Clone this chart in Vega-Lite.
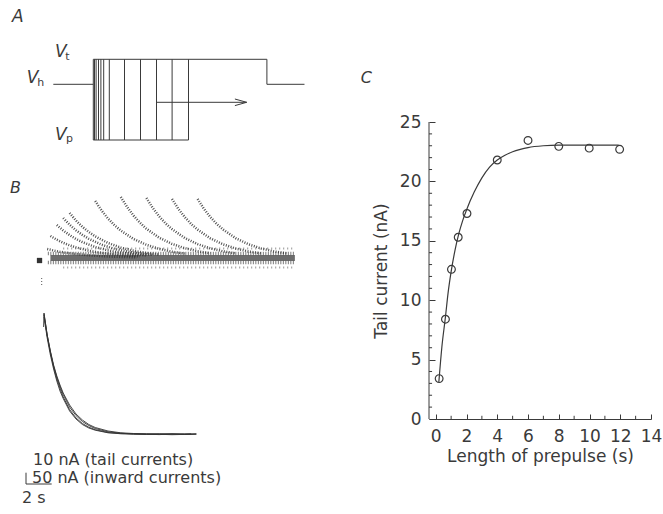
{
  "$schema": "https://vega.github.io/schema/vega-lite/v6.json",
  "padding": 0,
  "background": "white",
  "config": {
    "view": {"stroke": null},
    "font": "DejaVu Sans",
    "axis": {"titleFontWeight": "normal", "grid": false}
  },
  "datasets": {
    "protocol": [
      {"t": -5, "t2": 0, "v": 0, "v2": 0},
      {"t": 0, "t2": 0, "v": 25, "v2": -55.7},
      {"t": 0, "t2": 11.9, "v": -55.7, "v2": -55.7},
      {"t": 0.15, "t2": 0.15, "v": -55.7, "v2": 25},
      {"t": 0.35, "t2": 0.35, "v": -55.7, "v2": 25},
      {"t": 0.65, "t2": 0.65, "v": -55.7, "v2": 25},
      {"t": 0.95, "t2": 0.95, "v": -55.7, "v2": 25},
      {"t": 1.3, "t2": 1.3, "v": -55.7, "v2": 25},
      {"t": 2, "t2": 2, "v": -55.7, "v2": 25},
      {"t": 3.9, "t2": 3.9, "v": -55.7, "v2": 25},
      {"t": 5.9, "t2": 5.9, "v": -55.7, "v2": 25},
      {"t": 7.9, "t2": 7.9, "v": -55.7, "v2": 25},
      {"t": 9.85, "t2": 9.85, "v": -55.7, "v2": 25},
      {"t": 11.9, "t2": 11.9, "v": -55.7, "v2": 25},
      {"t": 0, "t2": 21.7, "v": 25, "v2": 25},
      {"t": 21.7, "t2": 21.7, "v": 25, "v2": 0},
      {"t": 21.7, "t2": 26.4, "v": 0, "v2": 0},
      {"t": 7.9, "t2": 19.17, "v": -18, "v2": -18},
      {"t": 17.7, "t2": 19.17, "v": -14.7, "v2": -18},
      {"t": 17.7, "t2": 19.17, "v": -21.3, "v2": -18}
    ],
    "protocolBig": [
      {"t": -10.16, "v": 62.3, "label": "A"},
      {"t": -4.79, "v": 27.6, "label": "V"},
      {"t": -8.33, "v": 1.0, "label": "V"},
      {"t": -4.79, "v": -55.7, "label": "V"}
    ],
    "protocolSub": [
      {"t": -3.5, "v": 24.0, "label": "t"},
      {"t": -7.0, "v": -1.5, "label": "h"},
      {"t": -3.4, "v": -57.5, "label": "p"}
    ],
    "bandCore": [{"t": 0.5, "t2": 19.6, "y": 177, "y2": 177}],
    "bandFringe": [
      {"t": 0.3, "t2": 19.6, "y": 181.5, "y2": 181.5},
      {"t": 0.3, "t2": 19.6, "y": 172.5, "y2": 172.5}
    ],
    "bandOuter": [
      {"t": 1.5, "t2": 19.4, "y": 186.5, "y2": 186.5},
      {"t": 1.5, "t2": 19.4, "y": 167.5, "y2": 167.5}
    ],
    "tail": [
      {"k": 0.25, "t": 0.25, "y": 186}, {"k": 0.25, "t": 0.75, "y": 184.5}, {"k": 0.25, "t": 1.25, "y": 183.2}, {"k": 0.25, "t": 1.75, "y": 182.2}, {"k": 0.25, "t": 2.25, "y": 181.3}, {"k": 0.25, "t": 3.25, "y": 180}, {"k": 0.25, "t": 4.25, "y": 179.1}, {"k": 0.25, "t": 5.25, "y": 178.4}, {"k": 0.25, "t": 6.25, "y": 178}, {"k": 0.25, "t": 7.25, "y": 177.7},
      {"k": 0.5, "t": 0.5, "y": 199}, {"k": 0.5, "t": 1, "y": 195.3}, {"k": 0.5, "t": 1.5, "y": 192.2}, {"k": 0.5, "t": 2, "y": 189.7}, {"k": 0.5, "t": 2.5, "y": 187.6}, {"k": 0.5, "t": 3.5, "y": 184.3}, {"k": 0.5, "t": 4.5, "y": 182.1}, {"k": 0.5, "t": 5.5, "y": 180.5}, {"k": 0.5, "t": 6.5, "y": 179.4}, {"k": 0.5, "t": 7.5, "y": 178.7},
      {"k": 1, "t": 1, "y": 210}, {"k": 1, "t": 1.5, "y": 204.5}, {"k": 1, "t": 2, "y": 199.9}, {"k": 1, "t": 2.5, "y": 196}, {"k": 1, "t": 3, "y": 192.9}, {"k": 1, "t": 4, "y": 188}, {"k": 1, "t": 5, "y": 184.6}, {"k": 1, "t": 6, "y": 182.3}, {"k": 1, "t": 7, "y": 180.7}, {"k": 1, "t": 8, "y": 179.5},
      {"k": 1.5, "t": 1.5, "y": 217}, {"k": 1.5, "t": 2, "y": 210.3}, {"k": 1.5, "t": 2.5, "y": 204.7}, {"k": 1.5, "t": 3, "y": 200.1}, {"k": 1.5, "t": 3.5, "y": 196.2}, {"k": 1.5, "t": 4.5, "y": 190.3}, {"k": 1.5, "t": 5.5, "y": 186.2}, {"k": 1.5, "t": 6.5, "y": 183.4}, {"k": 1.5, "t": 7.5, "y": 181.4}, {"k": 1.5, "t": 8.5, "y": 180.1},
      {"k": 2, "t": 2, "y": 222}, {"k": 2, "t": 2.5, "y": 214.5}, {"k": 2, "t": 3, "y": 208.2}, {"k": 2, "t": 3.5, "y": 203}, {"k": 2, "t": 4, "y": 198.6}, {"k": 2, "t": 5, "y": 192}, {"k": 2, "t": 6, "y": 187.4}, {"k": 2, "t": 7, "y": 184.2}, {"k": 2, "t": 8, "y": 182}, {"k": 2, "t": 9, "y": 180.5},
      {"k": 4, "t": 4, "y": 234}, {"k": 4, "t": 4.5, "y": 224.5}, {"k": 4, "t": 5, "y": 216.5}, {"k": 4, "t": 5.5, "y": 209.9}, {"k": 4, "t": 6, "y": 204.4}, {"k": 4, "t": 7, "y": 196}, {"k": 4, "t": 8, "y": 190.2}, {"k": 4, "t": 9, "y": 186.1}, {"k": 4, "t": 10, "y": 183.3}, {"k": 4, "t": 11, "y": 181.4},
      {"k": 6, "t": 6, "y": 238}, {"k": 6, "t": 6.5, "y": 227.8}, {"k": 6, "t": 7, "y": 219.3}, {"k": 6, "t": 7.5, "y": 212.2}, {"k": 6, "t": 8, "y": 206.3}, {"k": 6, "t": 9, "y": 197.3}, {"k": 6, "t": 10, "y": 191.1}, {"k": 6, "t": 11, "y": 186.8}, {"k": 6, "t": 12, "y": 183.8}, {"k": 6, "t": 13, "y": 181.7},
      {"k": 8, "t": 8, "y": 237}, {"k": 8, "t": 8.5, "y": 227}, {"k": 8, "t": 9, "y": 218.6}, {"k": 8, "t": 9.5, "y": 211.6}, {"k": 8, "t": 10, "y": 205.9}, {"k": 8, "t": 11, "y": 197}, {"k": 8, "t": 12, "y": 190.9}, {"k": 8, "t": 13, "y": 186.6}, {"k": 8, "t": 14, "y": 183.7}, {"k": 8, "t": 15, "y": 181.6},
      {"k": 10, "t": 10, "y": 236}, {"k": 10, "t": 10.5, "y": 226.1}, {"k": 10, "t": 11, "y": 217.9}, {"k": 10, "t": 11.5, "y": 211}, {"k": 10, "t": 12, "y": 205.4}, {"k": 10, "t": 13, "y": 196.6}, {"k": 10, "t": 14, "y": 190.6}, {"k": 10, "t": 15, "y": 186.4}, {"k": 10, "t": 16, "y": 183.5}, {"k": 10, "t": 17, "y": 181.5},
      {"k": 12, "t": 12, "y": 236}, {"k": 12, "t": 12.5, "y": 226.1}, {"k": 12, "t": 13, "y": 217.9}, {"k": 12, "t": 13.5, "y": 211}, {"k": 12, "t": 14, "y": 205.4}, {"k": 12, "t": 15, "y": 196.6}, {"k": 12, "t": 16, "y": 190.6}, {"k": 12, "t": 17, "y": 186.4}, {"k": 12, "t": 18, "y": 183.5}, {"k": 12, "t": 19, "y": 181.5}
    ],
    "inward": [
      {"k": 1, "t": -0.03, "y": 108}, {"k": 1, "t": 0, "y": 122}, {"k": 1, "t": 0.25, "y": 100}, {"k": 1, "t": 0.5, "y": 83}, {"k": 1, "t": 0.75, "y": 68}, {"k": 1, "t": 1, "y": 56}, {"k": 1, "t": 1.25, "y": 46.5}, {"k": 1, "t": 1.5, "y": 38}, {"k": 1, "t": 2, "y": 25.5}, {"k": 1, "t": 2.5, "y": 17}, {"k": 1, "t": 3, "y": 11.5}, {"k": 1, "t": 3.5, "y": 7.8}, {"k": 1, "t": 4, "y": 5.3}, {"k": 1, "t": 5, "y": 2.5}, {"k": 1, "t": 6, "y": 1.2}, {"k": 1, "t": 7, "y": 0.8}, {"k": 1, "t": 8, "y": 0.5}, {"k": 1, "t": 9, "y": 0.7}, {"k": 1, "t": 10, "y": 0.3}, {"k": 1, "t": 11, "y": 0.6}, {"k": 1, "t": 11.9, "y": 0.8},
      {"k": 2, "t": 0, "y": 120}, {"k": 2, "t": 0.25, "y": 99}, {"k": 2, "t": 0.5, "y": 82.5}, {"k": 2, "t": 0.75, "y": 69}, {"k": 2, "t": 1, "y": 58}, {"k": 2, "t": 1.25, "y": 48.5}, {"k": 2, "t": 1.5, "y": 40.5}, {"k": 2, "t": 2, "y": 28}, {"k": 2, "t": 2.5, "y": 19.5}, {"k": 2, "t": 3, "y": 13.5}, {"k": 2, "t": 3.5, "y": 9.5}, {"k": 2, "t": 4, "y": 6.5}, {"k": 2, "t": 5, "y": 3.2}, {"k": 2, "t": 6, "y": 1.8}, {"k": 2, "t": 7, "y": 1.0}, {"k": 2, "t": 8, "y": 0.8}, {"k": 2, "t": 9, "y": 0.4}, {"k": 2, "t": 10, "y": 0.9}, {"k": 2, "t": 11, "y": 0.5}, {"k": 2, "t": 11.9, "y": 1.0},
      {"k": 3, "t": 0, "y": 118}, {"k": 3, "t": 0.25, "y": 97}, {"k": 3, "t": 0.5, "y": 80}, {"k": 3, "t": 0.75, "y": 66}, {"k": 3, "t": 1, "y": 54}, {"k": 3, "t": 1.25, "y": 44}, {"k": 3, "t": 1.5, "y": 36.5}, {"k": 3, "t": 2, "y": 24}, {"k": 3, "t": 2.5, "y": 16}, {"k": 3, "t": 3, "y": 10.5}, {"k": 3, "t": 3.5, "y": 7}, {"k": 3, "t": 4, "y": 4.8}, {"k": 3, "t": 5, "y": 2.2}, {"k": 3, "t": 6, "y": 1.5}, {"k": 3, "t": 7, "y": 1.3}, {"k": 3, "t": 8, "y": 1.0}, {"k": 3, "t": 9, "y": 1.2}, {"k": 3, "t": 10, "y": 0.9}, {"k": 3, "t": 11, "y": 1.1}, {"k": 3, "t": 11.5, "y": 1.2},
      {"k": 4, "t": 0, "y": 121}, {"k": 4, "t": 0.25, "y": 100}, {"k": 4, "t": 0.5, "y": 84}, {"k": 4, "t": 0.75, "y": 70}, {"k": 4, "t": 1, "y": 59}, {"k": 4, "t": 1.25, "y": 50}, {"k": 4, "t": 1.5, "y": 42}, {"k": 4, "t": 2, "y": 30}, {"k": 4, "t": 2.5, "y": 21}, {"k": 4, "t": 3, "y": 15}, {"k": 4, "t": 3.5, "y": 10.5}, {"k": 4, "t": 4, "y": 7.5}, {"k": 4, "t": 5, "y": 4}, {"k": 4, "t": 6, "y": 2.2}, {"k": 4, "t": 7, "y": 1.5}, {"k": 4, "t": 8, "y": 1.2}, {"k": 4, "t": 9, "y": 1}, {"k": 4, "t": 10, "y": 1.3}, {"k": 4, "t": 11, "y": 0.9}, {"k": 4, "t": 11.9, "y": 1.1}
    ],
    "marker": [{"t": -0.35, "y": 174.5}],
    "dotTick": [{"t": -0.18, "t2": -0.18, "y": 150, "y2": 158}],
    "scaleBars": [
      {"t": -1.406, "t2": -1.406, "y": -37.7, "y2": -49},
      {"t": -1.406, "t2": 0.6, "y": -49, "y2": -49}
    ],
    "bTexts": [
      {"t": -0.86, "y": -30, "label": "10 nA (tail currents)"},
      {"t": -0.94, "y": -47.5, "label": "50 nA (inward currents)"},
      {"t": -1.72, "y": -68.3, "label": "2 s"}
    ],
    "bLetter": [{"t": -2.656, "y": 241.7, "label": "B"}],
    "curve": [
      {"x": 0.2, "y": 3.1}, {"x": 0.4, "y": 6.1}, {"x": 0.63, "y": 8.6}, {"x": 0.8, "y": 10.6}, {"x": 1, "y": 12.4}, {"x": 1.25, "y": 14.2}, {"x": 1.5, "y": 15.6}, {"x": 1.75, "y": 16.7}, {"x": 2, "y": 17.6}, {"x": 2.5, "y": 19.1}, {"x": 3, "y": 20.3}, {"x": 3.5, "y": 21.2}, {"x": 4, "y": 21.8}, {"x": 4.5, "y": 22.2}, {"x": 5, "y": 22.5}, {"x": 5.5, "y": 22.7}, {"x": 6, "y": 22.85}, {"x": 7, "y": 23.0}, {"x": 8, "y": 23.05}, {"x": 10, "y": 23.05}, {"x": 11.9, "y": 23.05}
    ],
    "points": [
      {"x": 0.22, "y": 3.4}, {"x": 0.63, "y": 8.4}, {"x": 1.02, "y": 12.6}, {"x": 1.46, "y": 15.3}, {"x": 2.03, "y": 17.3}, {"x": 4.0, "y": 21.8}, {"x": 6.0, "y": 23.45}, {"x": 8.0, "y": 22.95}, {"x": 9.98, "y": 22.8}, {"x": 11.96, "y": 22.7}
    ],
    "yMinor": [
      {"y": 1}, {"y": 2}, {"y": 3}, {"y": 4}, {"y": 6}, {"y": 7}, {"y": 8}, {"y": 9}, {"y": 11}, {"y": 12}, {"y": 13}, {"y": 14}, {"y": 16}, {"y": 17}, {"y": 18}, {"y": 19}, {"y": 21}, {"y": 22}, {"y": 23}, {"y": 24}
    ],
    "xMinor": [{"x": 1}, {"x": 3}, {"x": 5}, {"x": 7}, {"x": 9}, {"x": 11}, {"x": 13}],
    "cLetter": [{"x": -4.886, "y": 28.26, "label": "C"}]
  },
  "hconcat": [
    {
      "spacing": 0,
      "vconcat": [
        {
          "width": 310,
          "height": 160,
          "encoding": {
            "x": {"field": "t", "type": "quantitative", "scale": {"domain": [-11.6625, 27.0875], "nice": false, "zero": false}, "axis": null},
            "y": {"field": "v", "type": "quantitative", "scale": {"domain": [-75.7, 84.3], "nice": false, "zero": false}, "axis": null}
          },
          "layer": [
            {
              "data": {"name": "protocol"},
              "mark": {"type": "rule", "color": "#3a3a3a", "strokeWidth": 1},
              "encoding": {"x2": {"field": "t2"}, "y2": {"field": "v2"}}
            },
            {
              "data": {"name": "protocolBig"},
              "mark": {"type": "text", "fontStyle": "italic", "fontSize": 17, "align": "left", "baseline": "alphabetic", "color": "#3a3a3a"},
              "encoding": {"text": {"field": "label"}}
            },
            {
              "data": {"name": "protocolSub"},
              "mark": {"type": "text", "fontSize": 11, "align": "left", "baseline": "alphabetic", "color": "#3a3a3a"},
              "encoding": {"text": {"field": "label"}}
            }
          ]
        },
        {
          "width": 310,
          "height": 354,
          "encoding": {
            "x": {"field": "t", "type": "quantitative", "scale": {"domain": [-3.4375, 20.78125], "nice": false, "zero": false}, "axis": null},
            "y": {"field": "y", "type": "quantitative", "scale": {"domain": [-79, 275], "nice": false, "zero": false}, "axis": null}
          },
          "layer": [
            {
              "data": {"name": "bandOuter"},
              "mark": {"type": "rule", "color": "#333333", "strokeWidth": 2, "strokeDash": [1, 3], "opacity": 0.5},
              "encoding": {"x2": {"field": "t2"}, "y2": {"field": "y2"}}
            },
            {
              "data": {"name": "bandFringe"},
              "mark": {"type": "rule", "color": "#333333", "strokeWidth": 3.5, "strokeDash": [1, 1.5], "opacity": 0.65},
              "encoding": {"x2": {"field": "t2"}, "y2": {"field": "y2"}}
            },
            {
              "data": {"name": "bandCore"},
              "mark": {"type": "rule", "color": "#2e2e2e", "strokeWidth": 6, "opacity": 0.7},
              "encoding": {"x2": {"field": "t2"}, "y2": {"field": "y2"}}
            },
            {
              "data": {"name": "tail"},
              "mark": {"type": "line", "color": "#333333", "strokeWidth": 2.5, "strokeDash": [1, 1.5], "opacity": 0.85},
              "encoding": {"detail": {"field": "k", "type": "nominal"}}
            },
            {
              "data": {"name": "inward"},
              "mark": {"type": "line", "color": "#333333", "strokeWidth": 0.9},
              "encoding": {"detail": {"field": "k", "type": "nominal"}}
            },
            {
              "data": {"name": "marker"},
              "mark": {"type": "point", "shape": "square", "filled": true, "size": 28, "color": "#333333", "opacity": 1},
              "encoding": {}
            },
            {
              "data": {"name": "dotTick"},
              "mark": {"type": "rule", "color": "#555555", "strokeWidth": 1, "strokeDash": [1, 2]},
              "encoding": {"x2": {"field": "t2"}, "y2": {"field": "y2"}}
            },
            {
              "data": {"name": "scaleBars"},
              "mark": {"type": "rule", "color": "#3a3a3a", "strokeWidth": 1},
              "encoding": {"x2": {"field": "t2"}, "y2": {"field": "y2"}}
            },
            {
              "data": {"name": "bTexts"},
              "mark": {"type": "text", "fontSize": 16, "align": "left", "baseline": "alphabetic", "color": "#3a3a3a"},
              "encoding": {"text": {"field": "label"}}
            },
            {
              "data": {"name": "bLetter"},
              "mark": {"type": "text", "fontSize": 16, "fontStyle": "italic", "align": "left", "baseline": "alphabetic", "color": "#3a3a3a"},
              "encoding": {"text": {"field": "label"}}
            }
          ]
        }
      ]
    },
    {
      "width": 222,
      "height": 419,
      "layer": [
        {
          "data": {"name": "curve"},
          "mark": {"type": "line", "color": "#3a3a3a", "strokeWidth": 1.2, "interpolate": "monotone"},
          "encoding": {
            "x": {"field": "x", "type": "quantitative", "scale": {"domain": [-0.44, 14], "nice": false, "zero": false},
              "axis": {"values": [0, 2, 4, 6, 8, 10, 12, 14], "title": "Length of prepulse (s)", "tickSize": -5, "labelPadding": 14, "titlePadding": 4, "labelFontSize": 17, "titleFontSize": 17, "labelColor": "#3a3a3a", "titleColor": "#3a3a3a", "domainColor": "#3a3a3a", "tickColor": "#3a3a3a", "labelFlush": false, "labelOverlap": false}},
            "y": {"field": "y", "type": "quantitative", "scale": {"domain": [0, 35.27], "nice": false, "zero": false},
              "axis": {"values": [0, 5, 10, 15, 20, 25], "title": "Tail current (nA)", "domain": false, "tickSize": -6, "labelPadding": 14, "titleX": -43, "titleY": 270.5, "titleBaseline": "alphabetic", "labelFontSize": 17, "titleFontSize": 17, "labelColor": "#3a3a3a", "titleColor": "#3a3a3a", "tickColor": "#3a3a3a", "labelOverlap": false}}
          }
        },
        {
          "data": {"values": [{}]},
          "mark": {"type": "rule", "color": "#3a3a3a", "strokeWidth": 1},
          "encoding": {
            "x": {"datum": -0.44, "type": "quantitative", "scale": {"domain": [-0.44, 14], "nice": false, "zero": false},
              "axis": {"values": [0, 2, 4, 6, 8, 10, 12, 14], "title": "Length of prepulse (s)", "tickSize": -5, "labelPadding": 14, "titlePadding": 4, "labelFontSize": 17, "titleFontSize": 17, "labelColor": "#3a3a3a", "titleColor": "#3a3a3a", "domainColor": "#3a3a3a", "tickColor": "#3a3a3a", "labelFlush": false, "labelOverlap": false}},
            "y": {"datum": 0, "type": "quantitative", "scale": {"domain": [0, 35.27], "nice": false, "zero": false},
              "axis": {"values": [0, 5, 10, 15, 20, 25], "title": "Tail current (nA)", "domain": false, "tickSize": -6, "labelPadding": 14, "titleX": -43, "titleY": 270.5, "titleBaseline": "alphabetic", "labelFontSize": 17, "titleFontSize": 17, "labelColor": "#3a3a3a", "titleColor": "#3a3a3a", "tickColor": "#3a3a3a", "labelOverlap": false}},
            "y2": {"datum": 25}
          }
        },
        {
          "data": {"name": "yMinor"},
          "mark": {"type": "rule", "color": "#3a3a3a", "strokeWidth": 1},
          "encoding": {
            "x": {"datum": -0.44, "type": "quantitative", "scale": {"domain": [-0.44, 14], "nice": false, "zero": false},
              "axis": {"values": [0, 2, 4, 6, 8, 10, 12, 14], "title": "Length of prepulse (s)", "tickSize": -5, "labelPadding": 14, "titlePadding": 4, "labelFontSize": 17, "titleFontSize": 17, "labelColor": "#3a3a3a", "titleColor": "#3a3a3a", "domainColor": "#3a3a3a", "tickColor": "#3a3a3a", "labelFlush": false, "labelOverlap": false}},
            "x2": {"datum": -0.24},
            "y": {"field": "y", "type": "quantitative", "scale": {"domain": [0, 35.27], "nice": false, "zero": false},
              "axis": {"values": [0, 5, 10, 15, 20, 25], "title": "Tail current (nA)", "domain": false, "tickSize": -6, "labelPadding": 14, "titleX": -43, "titleY": 270.5, "titleBaseline": "alphabetic", "labelFontSize": 17, "titleFontSize": 17, "labelColor": "#3a3a3a", "titleColor": "#3a3a3a", "tickColor": "#3a3a3a", "labelOverlap": false}}
          }
        },
        {
          "data": {"name": "xMinor"},
          "mark": {"type": "rule", "color": "#3a3a3a", "strokeWidth": 1},
          "encoding": {
            "x": {"field": "x", "type": "quantitative", "scale": {"domain": [-0.44, 14], "nice": false, "zero": false},
              "axis": {"values": [0, 2, 4, 6, 8, 10, 12, 14], "title": "Length of prepulse (s)", "tickSize": -5, "labelPadding": 14, "titlePadding": 4, "labelFontSize": 17, "titleFontSize": 17, "labelColor": "#3a3a3a", "titleColor": "#3a3a3a", "domainColor": "#3a3a3a", "tickColor": "#3a3a3a", "labelFlush": false, "labelOverlap": false}},
            "y": {"datum": 0, "type": "quantitative", "scale": {"domain": [0, 35.27], "nice": false, "zero": false},
              "axis": {"values": [0, 5, 10, 15, 20, 25], "title": "Tail current (nA)", "domain": false, "tickSize": -6, "labelPadding": 14, "titleX": -43, "titleY": 270.5, "titleBaseline": "alphabetic", "labelFontSize": 17, "titleFontSize": 17, "labelColor": "#3a3a3a", "titleColor": "#3a3a3a", "tickColor": "#3a3a3a", "labelOverlap": false}},
            "y2": {"datum": 0.27}
          }
        },
        {
          "data": {"name": "points"},
          "mark": {"type": "point", "shape": "circle", "filled": false, "size": 60, "color": "#3a3a3a", "strokeWidth": 1.2, "opacity": 1},
          "encoding": {
            "x": {"field": "x", "type": "quantitative", "scale": {"domain": [-0.44, 14], "nice": false, "zero": false},
              "axis": {"values": [0, 2, 4, 6, 8, 10, 12, 14], "title": "Length of prepulse (s)", "tickSize": -5, "labelPadding": 14, "titlePadding": 4, "labelFontSize": 17, "titleFontSize": 17, "labelColor": "#3a3a3a", "titleColor": "#3a3a3a", "domainColor": "#3a3a3a", "tickColor": "#3a3a3a", "labelFlush": false, "labelOverlap": false}},
            "y": {"field": "y", "type": "quantitative", "scale": {"domain": [0, 35.27], "nice": false, "zero": false},
              "axis": {"values": [0, 5, 10, 15, 20, 25], "title": "Tail current (nA)", "domain": false, "tickSize": -6, "labelPadding": 14, "titleX": -43, "titleY": 270.5, "titleBaseline": "alphabetic", "labelFontSize": 17, "titleFontSize": 17, "labelColor": "#3a3a3a", "titleColor": "#3a3a3a", "tickColor": "#3a3a3a", "labelOverlap": false}}
          }
        },
        {
          "data": {"name": "cLetter"},
          "mark": {"type": "text", "fontSize": 16, "fontStyle": "italic", "align": "left", "baseline": "alphabetic", "color": "#3a3a3a"},
          "encoding": {
            "x": {"field": "x", "type": "quantitative", "scale": {"domain": [-0.44, 14], "nice": false, "zero": false},
              "axis": {"values": [0, 2, 4, 6, 8, 10, 12, 14], "title": "Length of prepulse (s)", "tickSize": -5, "labelPadding": 14, "titlePadding": 4, "labelFontSize": 17, "titleFontSize": 17, "labelColor": "#3a3a3a", "titleColor": "#3a3a3a", "domainColor": "#3a3a3a", "tickColor": "#3a3a3a", "labelFlush": false, "labelOverlap": false}},
            "y": {"field": "y", "type": "quantitative", "scale": {"domain": [0, 35.27], "nice": false, "zero": false},
              "axis": {"values": [0, 5, 10, 15, 20, 25], "title": "Tail current (nA)", "domain": false, "tickSize": -6, "labelPadding": 14, "titleX": -43, "titleY": 270.5, "titleBaseline": "alphabetic", "labelFontSize": 17, "titleFontSize": 17, "labelColor": "#3a3a3a", "titleColor": "#3a3a3a", "tickColor": "#3a3a3a", "labelOverlap": false}},
            "text": {"field": "label"}
          }
        }
      ]
    }
  ],
  "spacing": 50
}
